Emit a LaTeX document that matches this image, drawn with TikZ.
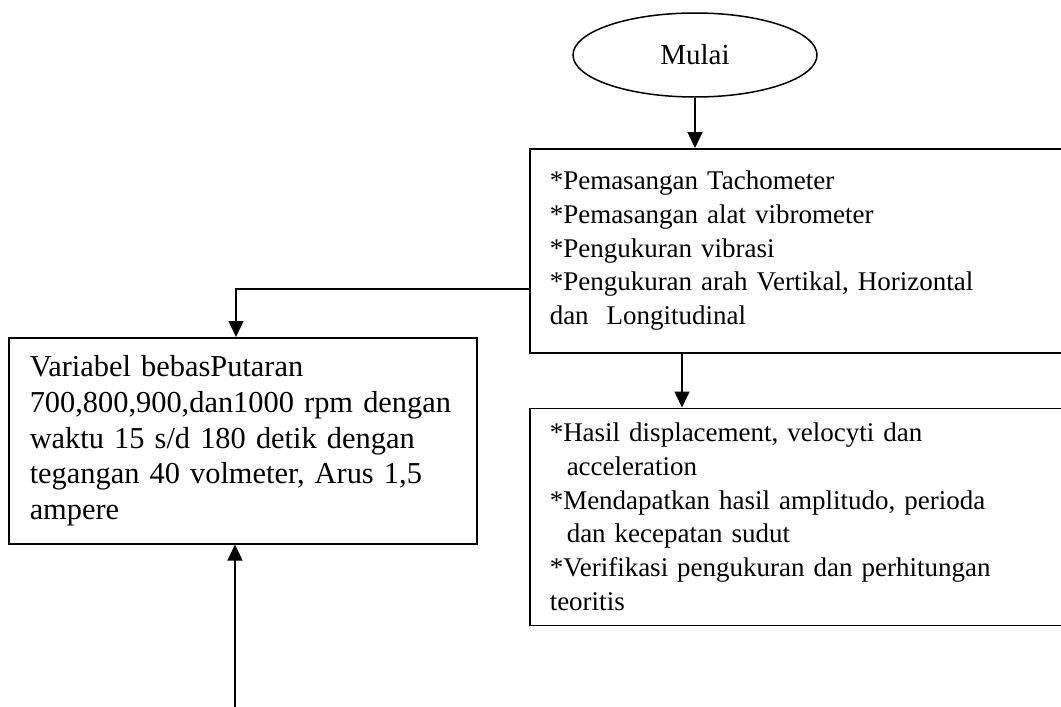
\documentclass[tikz,border=0pt]{standalone}
\usepackage{fontspec}
\setmainfont{Liberation Serif}
\usetikzlibrary{positioning}
\usetikzlibrary{shapes.geometric}
\usetikzlibrary{arrows.meta}
\tikzstyle{arrow} = [line width=1.5pt,-{Triangle[length=16pt,width=15pt]}]

\begin{document}
\begin{tikzpicture}[x=1pt,y=-1pt,
  node distance = 54pt,
  start/.style = {ellipse,draw,line width=1.5pt,minimum width=244pt,
  minimum height=84pt,inner sep=0pt,font=\fontsize{29}{34}\selectfont},
  box/.style = {draw,line width=1.5pt,anchor=north west,align=left,
  inner ysep=0pt,font=\fontsize{27}{33.7}\selectfont}]
 \useasboundingbox (0,0) rectangle (1061,707);
 \node[start] (mulai) at (695,55) {Mulai};
 \node[box,text width=506pt,inner xsep=20pt,minimum height=204pt] (b1) at (529,148)
  {*Pemasangan Tachometer\\{}
   *Pemasangan alat vibrometer\\{}
   *Pengukuran vibrasi\\{}
   *Pengukuran arah Vertikal, Horizontal\\
   dan\ \ Longitudinal};
 \node[box,text width=506pt,inner xsep=20pt,minimum height=217pt,below=of b1] (b2)
  {*Hasil displacement, velocyti dan\\
   \hspace*{17pt}acceleration\\{}
   *Mendapatkan hasil amplitudo, perioda\\
   \hspace*{17pt}dan kecepatan sudut\\{}
   *Verifikasi pengukuran dan perhitungan\\
   teoritis};
 \node[box,text width=426pt,inner xsep=21pt,minimum height=206pt,
  font=\fontsize{30.4}{35.6}\selectfont] (b3) at (8,337)
  {Variabel bebasPutaran\\
   700,800,900,dan1000 rpm dengan\\
   waktu 15 s/d 180 detik dengan\\
   tegangan 40 volmeter, Arus 1,5\\
   ampere};
 \coordinate (input) at (235,712);
 \draw[arrow] (mulai.south) -- (mulai.south |- b1.north);
 \draw[arrow] ([xshift=153pt]b1.south west) -- ([xshift=153pt]b2.north west);
 \draw[arrow] ([yshift=-38pt]b1.west) -| ([xshift=228pt]b3.north west);
 \draw[arrow] (input) -- (input |- b3.south);
\end{tikzpicture}
\end{document}
